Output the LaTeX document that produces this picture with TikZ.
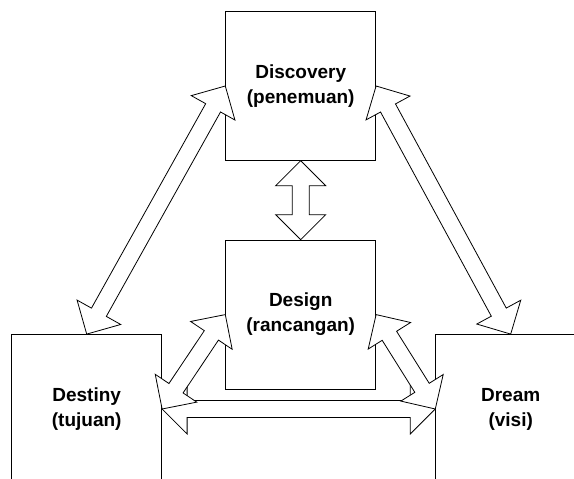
\documentclass[tikz,border=0pt]{standalone}
\usepackage{fontspec}
\setmainfont{Liberation Sans}
\usetikzlibrary{calc}
\tikzset{
  stage/.style={draw=black, line width=0.8pt, minimum width=150pt, minimum height=149pt,
    inner sep=0pt, align=center, font=\bfseries\fontsize{19}{25}\selectfont},
  arrowbody/.style={draw=black, fill=white, line width=0.8pt, line join=miter}
}
\newcommand\blockarrow[2]{%
  \coordinate (ha) at ($(#1)!25pt!(#2)$);
  \coordinate (hb) at ($(#2)!25pt!(#1)$);
  \draw[arrowbody] (#1) -- ($(ha)!25pt!90:(#2)$) -- ($(ha)!8.5pt!90:(#2)$)
    -- ($(hb)!8.5pt!-90:(#1)$) -- ($(hb)!25pt!-90:(#1)$) -- (#2)
    -- ($(hb)!25pt!90:(#1)$) -- ($(hb)!8.5pt!90:(#1)$)
    -- ($(ha)!8.5pt!-90:(#2)$) -- ($(ha)!25pt!-90:(#2)$) -- cycle;
}
\begin{document}
\begin{tikzpicture}[x=1pt, y=-1pt]
  \useasboundingbox (0,0) rectangle (574,479);
  \clip (0,0) rectangle (574,479);
  \node[stage, minimum height=148.6pt] (disc) at (300.7,86) {Discovery\\(penemuan)};
  \node[stage] (design) at (300.7,314.6) {Design\\(rancangan)};
  \node[stage] (destiny) at (86.7,409) {Destiny\\(tujuan)};
  \node[stage] (dream) at (510.7,409) {Dream\\(visi)};
  \blockarrow{destiny.east}{dream.west}
  \blockarrow{design.west}{destiny.east}
  \blockarrow{design.east}{dream.west}
  \blockarrow{disc.south}{design.north}
  \blockarrow{disc.west}{destiny.north}
  \blockarrow{disc.east}{dream.north}
\end{tikzpicture}
\end{document}
